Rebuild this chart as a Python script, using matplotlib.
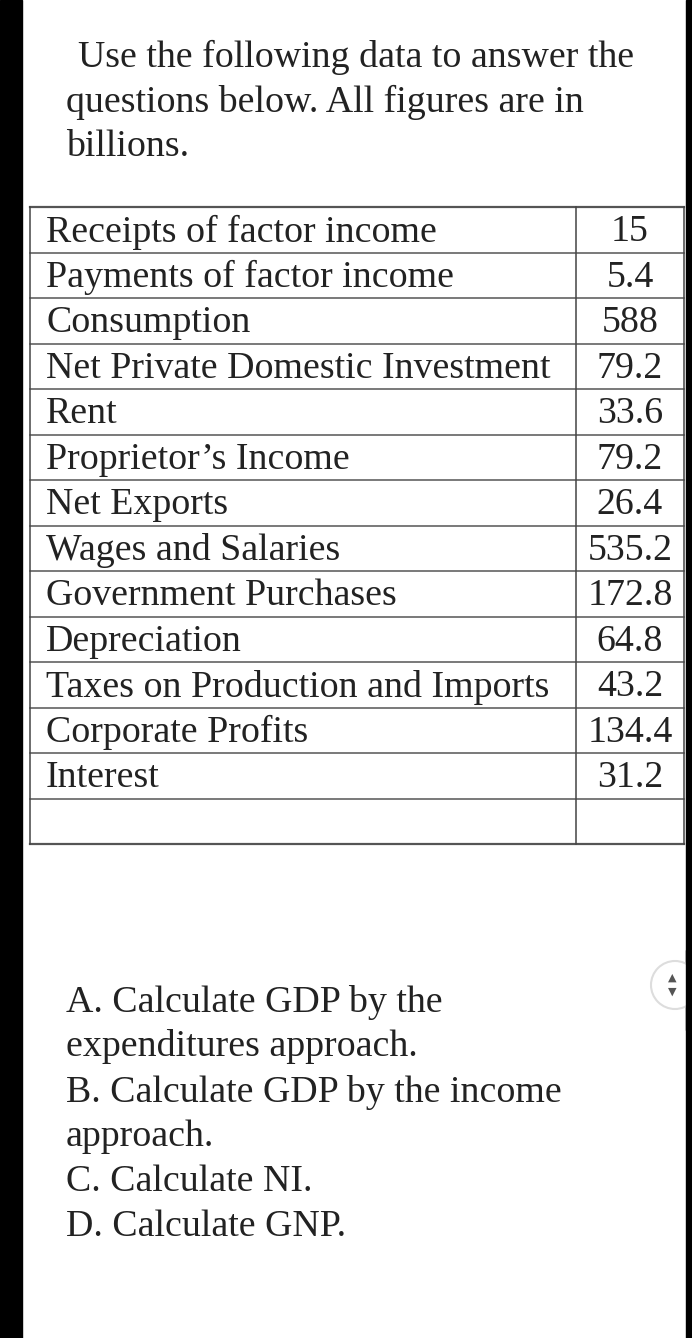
import matplotlib
matplotlib.use("Agg")
import matplotlib.pyplot as plt
from matplotlib.patches import Rectangle, Circle

# # # data # # #
items = ["Receipts of factor income", "Payments of factor income", "Consumption",
         "Net Private Domestic Investment", "Rent", "Proprietor\u2019s Income",
         "Net Exports", "Wages and Salaries", "Government Purchases", "Depreciation",
         "Taxes on Production and Imports", "Corporate Profits", "Interest", ""]
values = ["15", "5.4", "588", "79.2", "33.6", "79.2", "26.4", "535.2", "172.8",
          "64.8", "43.2", "134.4", "31.2", ""]
intro = ["Use the following data to answer the", "questions below. All figures are in", "billions."]
questions = ["A. Calculate GDP by the", "expenditures approach.", "B. Calculate GDP by the income",
             "approach.", "C. Calculate NI.", "D. Calculate GNP."]

W, H = 692, 1338
fig = plt.figure(figsize=(W / 100, H / 100), dpi=100)
ax = fig.add_axes([0, 0, 1, 1])
ax.set_xlim(0, W)
ax.set_ylim(H, 0)
ax.axis("off")
font = "Liberation Serif"
fs = 27.3

# black side bars of the screenshot
ax.add_patch(Rectangle((0, 0), 22, H, color="black"))
ax.add_patch(Rectangle((686, 0), 6, H, color="black"))

# intro text
for i, line in enumerate(intro):
    ax.text(78 if i == 0 else 66, 57 + i * 45, line, fontsize=fs, family=font,
            va="center", ha="left", color="#222")

# table
top, row_h = 207, 45.5
x0, xd, x1 = 30, 576, 684
n = len(items)
for i in range(n + 1):
    y = top + i * row_h
    ax.plot([x0, x1], [y, y], color="#555", lw=1.6 if i in (0, n) else 1.1)
for x in (x0, xd, x1):
    ax.plot([x, x], [top, top + n * row_h], color="#444", lw=1.1)
for i, (name, val) in enumerate(zip(items, values)):
    yc = top + (i + 0.55) * row_h
    ax.text(x0 + 16, yc, name, fontsize=fs, family=font, va="center", ha="left", color="#222")
    ax.text((xd + x1) / 2, yc, val, fontsize=fs, family=font, va="center", ha="center", color="#222")

# questions
for i, line in enumerate(questions):
    ax.text(66, 1002 + i * 45, line, fontsize=fs, family=font, va="center", ha="left", color="#222")

# scroll button
ax.add_patch(Circle((675, 985), 24, facecolor="white", edgecolor="#ddd", lw=1.5))
ax.add_patch(Rectangle((686, 950), 6, 80, color="black", zorder=3))
ax.text(672, 978, "\u25b2", fontsize=8, ha="center", va="center", color="#555")
ax.text(672, 992, "\u25bc", fontsize=8, ha="center", va="center", color="#555")

fig.savefig("out.png", dpi=100)
